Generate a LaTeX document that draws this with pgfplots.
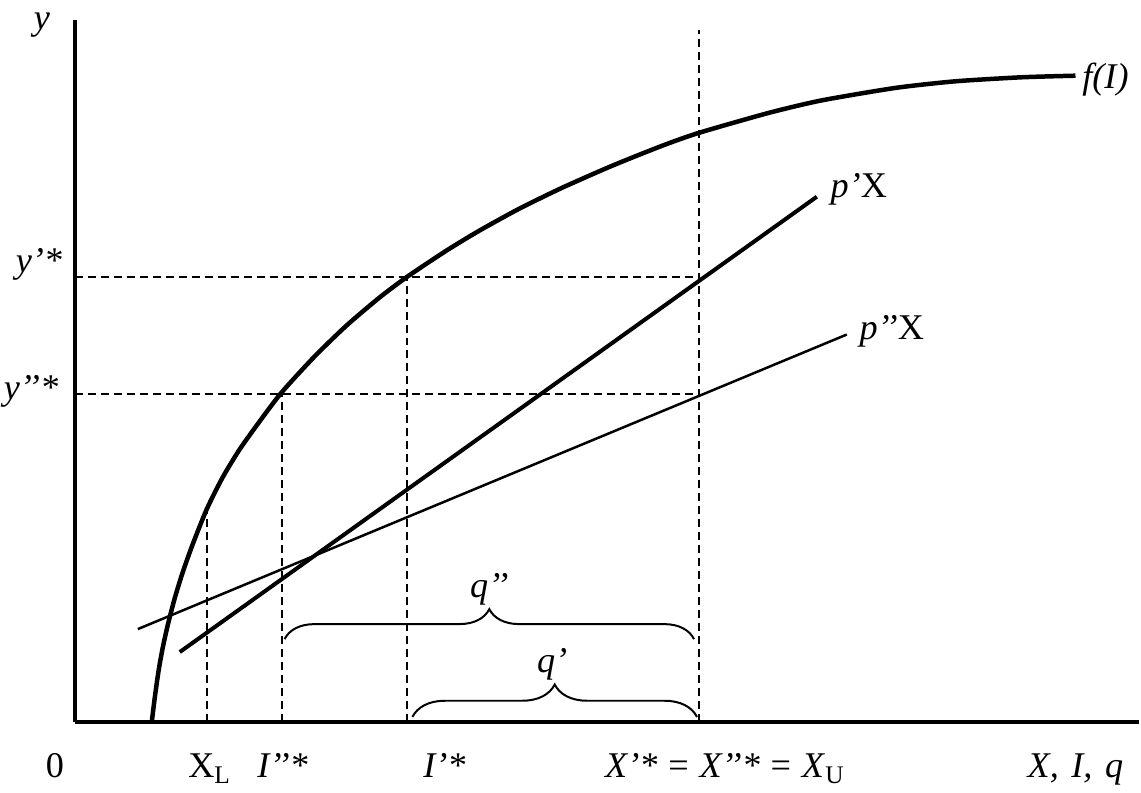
\documentclass[border=0pt]{standalone}
\usepackage{fontspec}
\setmainfont{Liberation Serif}
\usepackage{pgfplots}
\pgfplotsset{compat=1.18}
\usetikzlibrary{decorations.pathreplacing}

\begin{document}
\fontsize{14.5}{16}\selectfont
\begin{tikzpicture}[every node/.style={font=\fontsize{14.5}{16}\selectfont, inner sep=0.5pt}]
\begin{axis}[
  x=0.4pt, y=0.4pt,
  xmin=0, xmax=1066, ymin=0, ymax=703,
  axis x line=bottom, axis y line=left,
  axis line style={-, line width=1.3pt},
  xtick=\empty, ytick=\empty,
  clip=false,
]
% production function f(I)
\addplot[black, line width=1.8pt, smooth, tension=0.4] coordinates {
 (77,0) (80,24.5) (84,52.5) (88,74.5) (93,97) (100,124) (108,150) (118,178)
 (132,213) (148,245) (165,273) (185,301) (207,330) (240,366) (272,397)
 (305,425) (333,446) (372,472) (405,492) (445,514) (488,535) (538,557)
 (588,577) (625,590) (695,610) (748,622.5) (822,635) (882,641.6) (948,645.6) (1002,647.2)};
% p'X and p''X
\addplot[black, line width=1.6pt] coordinates {(105,70) (743,526)};
\addplot[black, line width=1.0pt] coordinates {(63,93) (773,388)};
% dashed guides
\addplot[black, line width=0.8pt, dash pattern=on 3.2pt off 2pt] coordinates {(132,0) (132,213)};
\addplot[black, line width=0.8pt, dash pattern=on 3.2pt off 2pt] coordinates {(207,0) (207,330)};
\addplot[black, line width=0.8pt, dash pattern=on 3.2pt off 2pt] coordinates {(333,0) (333,446)};
\addplot[black, line width=0.8pt, dash pattern=on 3.2pt off 2pt] coordinates {(625,0) (625,693)};
\addplot[black, line width=0.8pt, dash pattern=on 3.2pt off 2pt] coordinates {(0,446) (625,446)};
\addplot[black, line width=0.8pt, dash pattern=on 3.2pt off 2pt] coordinates {(0,328) (625,328)};
% braces
\draw[line width=0.8pt, decorate, decoration={brace, amplitude=12pt}] (axis cs:210,83) -- (axis cs:620,83);
\draw[line width=0.8pt, decorate, decoration={brace, amplitude=13pt}] (axis cs:338,5) -- (axis cs:623,5);
% labels
\node at (axis cs:-33,698) {\textit{y}};
\node at (axis cs:-36,458) {\textit{y’*}};
\node at (axis cs:-44,331) {\textit{y’’*}};
\node[anchor=base] at (axis cs:-20,-56) {0};
\node[anchor=base] at (axis cs:135,-56) {X\textsubscript{L}};
\node[anchor=base] at (axis cs:208,-56) {\textit{I’’*}};
\node[anchor=base] at (axis cs:370,-56) {\textit{I’*}};
\node[anchor=base] at (axis cs:651,-56) {\textit{X’*}\hspace{0.3em}=\hspace{0.3em}\textit{X’’*}\hspace{0.3em}=\hspace{0.3em}\textit{X}\textsubscript{U}};
\node[anchor=base] at (axis cs:1002,-56) {\textit{X,\hspace{0.1em} I,\hspace{0.1em} q}};
\node at (axis cs:1032,643) {\textit{f(I)}};
\node at (axis cs:785,533) {\textit{p’}X};
\node at (axis cs:818,391) {\textit{p’’}X};
\node at (axis cs:415,133) {\textit{q’’}};
\node at (axis cs:478,58) {\textit{q’}};
% frame of the whole figure
\path (axis cs:-75,-71) rectangle (axis cs:1066,723);
\end{axis}
\end{tikzpicture}
\end{document}
